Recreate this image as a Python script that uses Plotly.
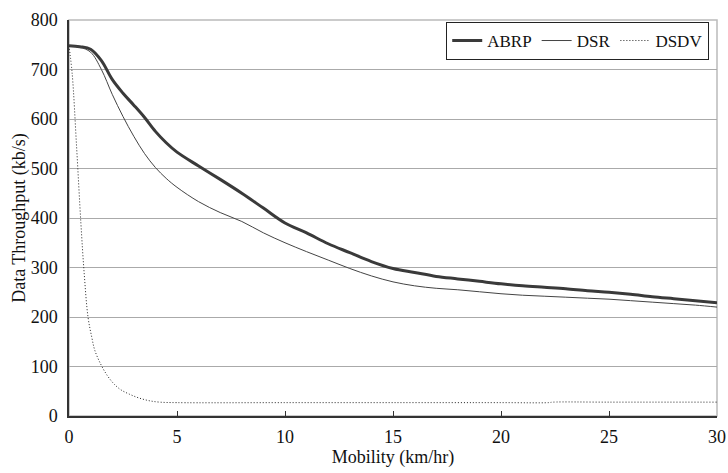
import plotly.graph_objects as go

abrp_x = [0, 0.5, 1, 1.5, 2, 2.5, 3, 3.5, 4, 4.5, 5, 6, 7, 8, 9, 10, 11, 12, 13, 14, 15,
          16, 17, 18, 19, 20, 21, 22, 23, 24, 25, 26, 27, 28, 29, 30]
abrp_y = [748, 746, 741, 718, 680, 652, 628, 603, 575, 552, 533, 505, 478, 450, 420, 390, 370,
          348, 330, 312, 298, 290, 282, 277, 272, 267, 263, 260, 257, 253, 250, 246, 241, 237, 233, 229]

dsr_x = [0, 0.5, 1, 1.5, 2, 2.5, 3, 3.5, 4, 4.5, 5, 6, 7, 8, 9, 10, 11, 12, 13, 14, 15,
         16, 17, 18, 19, 20, 21, 22, 23, 24, 25, 26, 27, 28, 29, 30]
dsr_y = [748, 745, 735, 700, 650, 605, 565, 530, 502, 480, 462, 433, 411, 393, 370, 350, 332,
         315, 298, 283, 271, 263, 258, 255, 251, 247, 244, 242, 240, 238, 236, 233, 230, 227, 224, 220]

dsdv_x = [0, 0.15, 0.35, 0.55, 0.7, 0.88, 1.05, 1.2, 1.5, 1.8, 2.1, 2.4, 2.8, 3.2, 3.7, 4.2, 5,
          10, 15, 20, 22.2, 22.4, 25, 30]
dsdv_y = [748, 690, 545, 390, 290, 200, 160, 132, 102, 80, 64, 53, 44, 37, 31, 28, 27,
          27, 27, 27, 27, 28, 28, 28]

font = "Liberation Serif"

fig = go.Figure()
fig.add_trace(go.Scatter(x=abrp_x, y=abrp_y, mode="lines", name="ABRP",
                         line=dict(color="#3a3a3a", width=3, shape="spline")))
fig.add_trace(go.Scatter(x=dsr_x, y=dsr_y, mode="lines", name="DSR",
                         line=dict(color="#444444", width=1, shape="spline")))
fig.add_trace(go.Scatter(x=dsdv_x, y=dsdv_y, mode="lines", name="DSDV",
                         line=dict(color="#222222", width=1, dash="1px,2px", shape="spline")))

fig.update_layout(
    width=728, height=473,
    margin=dict(l=69, r=11, t=20, b=57),
    paper_bgcolor="white", plot_bgcolor="white",
    font=dict(family=font, size=18, color="#111"),
    showlegend=True,
    legend=dict(orientation="h", x=0.988, y=0.995, xanchor="right", yanchor="top",
                bordercolor="#222", borderwidth=1, bgcolor="white",
                font=dict(family=font, size=17), itemwidth=30, tracegroupgap=0),
    xaxis=dict(range=[0, 30], tickvals=[0, 5, 10, 15, 20, 25, 30], ticks="inside",
               ticklen=5, tickcolor="#333", showgrid=False, zeroline=False,
               showline=True, linecolor="#333", linewidth=1.5, automargin=False,
               ticklabelstandoff=4,
               tickfont=dict(family=font, size=18),
               title=dict(text="Mobility (km/hr)", font=dict(family=font, size=18), standoff=2)),
    yaxis=dict(range=[0, 800], tickvals=[0, 100, 200, 300, 400, 500, 600, 700, 800],
               showgrid=True, gridcolor="#aaaaaa", gridwidth=1, zeroline=False,
               showline=True, linecolor="#333", linewidth=1.5, ticks="", automargin=False,
               ticklabelstandoff=6,
               tickfont=dict(family=font, size=18),
               title=dict(text="Data Throughput (kb/s)", font=dict(family=font, size=18), standoff=0)),
    shapes=[dict(type="rect", xref="paper", yref="paper", x0=0, y0=0, x1=1, y1=1,
                 line=dict(color="#bbbbbb", width=1.5), layer="below")],
)

fig.write_html("out.html", config={"displayModeBar": False},
               post_script="document.body.style.margin='0';")
